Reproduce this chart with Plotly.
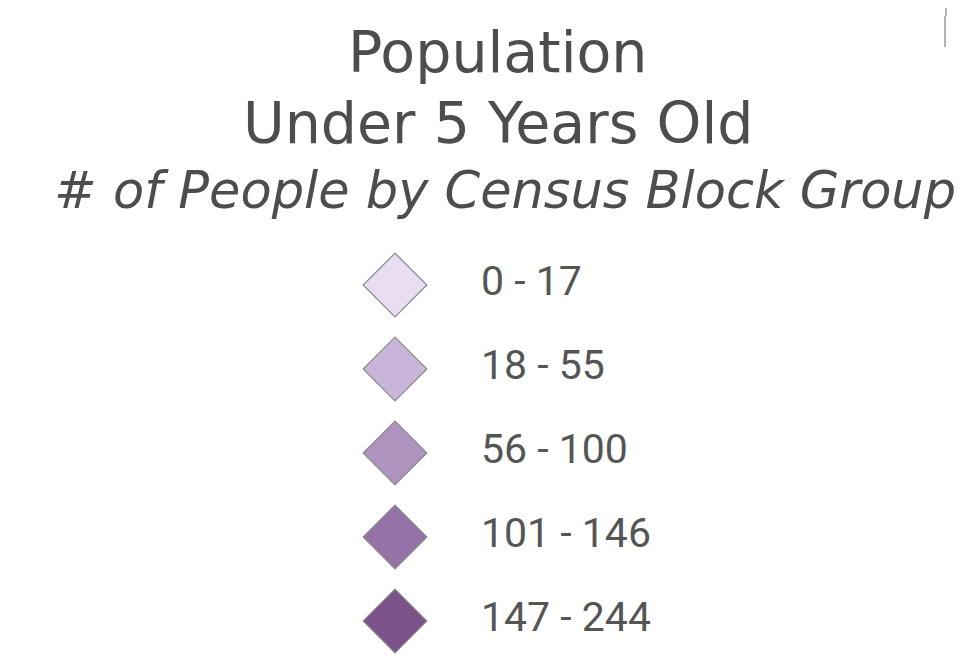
import plotly.graph_objects as go

title_lines = ["Population", "Under 5 Years Old"]
subtitle = "# of People by Census Block Group"
class_labels = ["0 - 17", "18 - 55", "56 - 100", "101 - 146", "147 - 244"]
class_colors = ["#E8DDF3", "#CAB5DA", "#AF93BF", "#9571A7", "#7B5289"]

W, H = 966, 658
OFF = 8  # default page body margin
row0, row_gap = 285, 84
marker_x, text_x = 395, 481
ys = [row0 + row_gap * i for i in range(len(class_labels))]

fig = go.Figure()
fig.add_trace(go.Scatter(
    x=[marker_x] * len(class_labels), y=ys, mode="markers",
    marker=dict(symbol="diamond", size=49, color=class_colors,
                line=dict(color="#8a8a8a", width=1.2)),
    hoverinfo="skip", showlegend=False))
fig.add_trace(go.Scatter(
    x=[text_x] * len(class_labels), y=ys, mode="text", text=class_labels,
    textposition="middle right",
    textfont=dict(family="Roboto", size=41, color="#555555"),
    hoverinfo="skip", showlegend=False))

tfont = dict(family="DejaVu Sans", size=57, color="#4d4d4d")
sfont = dict(family="DejaVu Sans", size=51, color="#4d4d4d")
fig.add_annotation(x=497, y=52, xref="x", yref="y", text=title_lines[0],
                   showarrow=False, font=tfont, xanchor="center", yanchor="middle")
fig.add_annotation(x=498, y=123, xref="x", yref="y", text=title_lines[1],
                   showarrow=False, font=tfont, xanchor="center", yanchor="middle")
fig.add_annotation(x=505, y=190, xref="x", yref="y", text="<i>" + subtitle + "</i>",
                   showarrow=False, font=sfont, xanchor="center", yanchor="middle")

fig.add_shape(type="line", x0=946, x1=946, y0=0, y1=16, xref="x", yref="y",
              line=dict(color="#9a9a9a", width=1.5))
fig.add_shape(type="line", x0=945, x1=945, y0=16, y1=47, xref="x", yref="y",
              line=dict(color="#9a9a9a", width=1.5))

fig.update_layout(
    width=W - OFF, height=H - OFF, margin=dict(l=0, r=0, t=0, b=0),
    paper_bgcolor="white", plot_bgcolor="white",
    xaxis=dict(range=[OFF, W], visible=False, fixedrange=True),
    yaxis=dict(range=[H, OFF], visible=False, fixedrange=True),
)
fig.write_html("out.html")
